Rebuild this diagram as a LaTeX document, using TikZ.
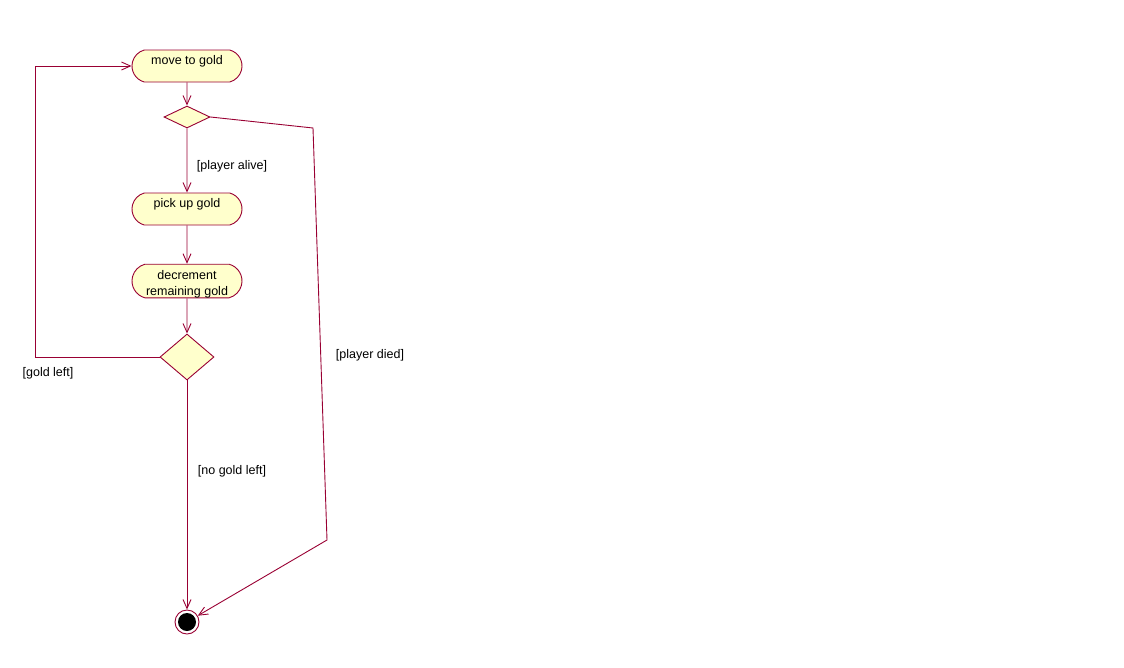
\documentclass[tikz,border=0pt]{standalone}
\usepackage{fontspec}
\setmainfont{Liberation Sans}
\usetikzlibrary{shapes.misc, shapes.geometric, arrows.meta, positioning}
\definecolor{umlline}{HTML}{990033}
\definecolor{umlfill}{HTML}{FFFFCC}
\tikzset{>={Straight Barb[length=9pt,width=8pt]}}

\begin{document}
\begin{tikzpicture}[x=1pt,y=-1pt,line width=0.9pt,
		activity/.style={rounded rectangle, rounded rectangle arc length=150, draw=umlline, fill=umlfill, minimum width=110pt, minimum height=32pt, inner sep=0pt, align=center, font=\fontsize{12.5}{16}\selectfont},
		raised/.style={text depth=12pt},
		lowered/.style={text height=31pt},
		decision/.style={diamond, draw=umlline, fill=umlfill, inner sep=0pt},
		flow/.style={draw=umlline, ->},
		guard/.style={font=\fontsize{12.5}{15}\selectfont}]
	\useasboundingbox (0,0) rectangle (1124,667);
	\node[activity,raised] (move) at (187,66) {move to gold};
	\node[decision,minimum width=46pt,minimum height=22pt] (alive) at (187,117) {};
	\node[activity,raised] (pick) at (187,209) {pick up gold};
	\node[activity,lowered] (dec) at (187,281) {decrement\\remaining gold};
	\node[decision,minimum width=54pt,minimum height=46pt] (left) at (187,357) {};
	\node[circle, draw=umlline, fill=white, minimum size=24pt, inner sep=0pt,
		path picture={\fill[black] (path picture bounding box.center) circle (9pt);}] (final) at (187,622) {};
	\coordinate (loopcorner) at (35,357);
	\coordinate (diedtop) at (313,128);
	\coordinate (diedbottom) at (327,540);
	\draw[flow] (move) -- (alive);
	\draw[flow] (alive) -- (pick);
	\draw[flow] (pick) -- (dec);
	\draw[flow] (dec) -- (left);
	\draw[flow] (left) -- (final);
	\draw[flow] (left.west) -- (loopcorner) |- (move.west);
	\draw[flow] (alive.east) -- (diedtop) -- (diedbottom) -- (final);
	\node[guard] (alivelabel) at (232,166) {[player alive]};
	\node[guard] (goldleftlabel) at (48,373) {[gold left]};
	\node[guard] (nogoldlabel) at (232,471) {[no gold left]};
	\node[guard] (diedlabel) at (370,355) {[player died]};
\end{tikzpicture}
\end{document}
